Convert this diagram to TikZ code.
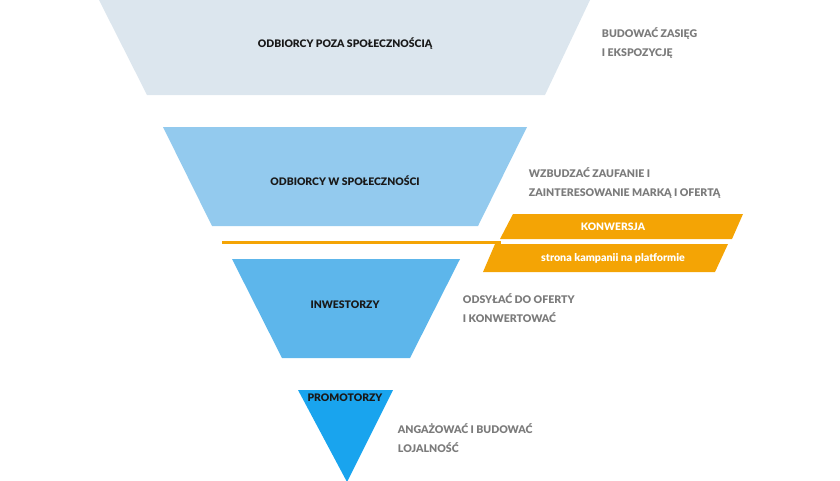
\documentclass[tikz,border=0pt]{standalone}
\usepackage{fontspec}
\setmainfont{Lato}[BoldFont={Lato Black}]
\usetikzlibrary{positioning}

\definecolor{outsidegray}{HTML}{DCE6EE}
\definecolor{communityblue}{HTML}{93CAEE}
\definecolor{investorblue}{HTML}{5DB6EB}
\definecolor{promoterblue}{HTML}{19A4EE}
\definecolor{funnelorange}{HTML}{F4A405}
\definecolor{notegray}{HTML}{7B7B7B}

\tikzset{
    level/.style={font=\bfseries\fontsize{7.4}{8}\selectfont, text=black!90},
    note/.style={font=\bfseries\fontsize{7.5}{14}\selectfont, text=notegray, align=left, anchor=west},
    band/.style={font=\bfseries\fontsize{7.3}{8}\selectfont, text=white}
}

\begin{document}
\begin{tikzpicture}[x=0.025cm, y=-0.025cm]
    \useasboundingbox (0,0) rectangle (840,480);

    %% funnel
    % Shapes
    \fill[outsidegray] (99,0) -- (590,0) -- (545,95) -- (147,95) -- cycle;
    \fill[communityblue] (163,127) -- (527,127) -- (478,226) -- (212,226) -- cycle;
    \fill[investorblue] (232,259) -- (460,259) -- (410,358) -- (282,358) -- cycle;
    \fill[promoterblue] (298,390) -- (393,390) -- (347,482) -- cycle;

    % Nodes
    \node[level] (outside) at (345,44) {ODBIORCY POZA SPOŁECZNOŚCIĄ};
    \node[level] (community) at (345,181) {ODBIORCY W SPOŁECZNOŚCI};
    \node[level] (investors) at (345,305) {INWESTORZY};
    \node[level] (promoters) at (345,398) {PROMOTORZY};

    %% conversion
    % Shapes
    \fill[funnelorange] (513,214) -- (743,214) -- (732,239) -- (500,239) -- cycle;
    \fill[funnelorange] (495,244) -- (728,244) -- (715,272) -- (483,272) -- cycle;
    \coordinate (linestart) at (222,242.5);
    \coordinate (lineend) at (501,242.5);
    \draw[funnelorange, line width=2.2pt] (linestart) -- (lineend);

    % Nodes
    \node[band] (conversion) at (613,227) {KONWERSJA};
    \node[band, font=\bfseries\fontsize{7.6}{8}\selectfont] (campaign) at (613,258) {strona kampanii na platformie};

    %% notes
    \node[note] (reach) at (597,43) {BUDOWAĆ ZASIĘG\\I EKSPOZYCJĘ};
    \node[note] (trust) at (524,183) {WZBUDZAĆ ZAUFANIE I\\ZAINTERESOWANIE MARKĄ I OFERTĄ};
    \node[note] (convert) at (458,308) {ODSYŁAĆ DO OFERTY\\I KONWERTOWAĆ};
    \node[note] (loyalty) at (393,438) {ANGAŻOWAĆ I BUDOWAĆ\\LOJALNOŚĆ};
\end{tikzpicture}
\end{document}
